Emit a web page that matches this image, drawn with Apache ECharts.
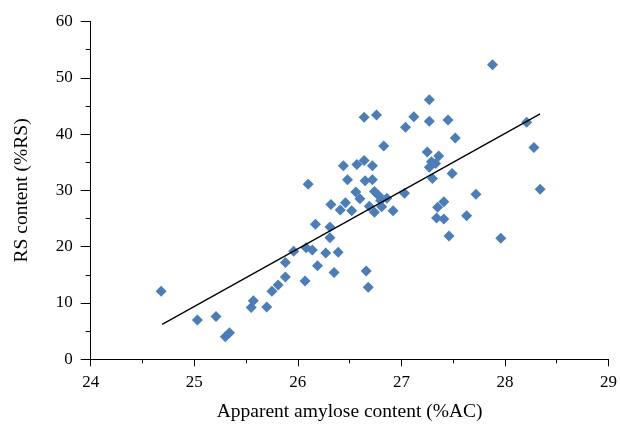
<!DOCTYPE html>
<html>
<head>
<meta charset="utf-8">
<script src="https://cdn.jsdelivr.net/npm/echarts@6/dist/echarts.min.js"></script>
<style>html,body{margin:0;padding:0;background:#fff;}#c{width:620px;height:429px;}</style>
</head>
<body>
<div id="c"></div>
<script>
var xTicks = [24, 25, 26, 27, 28, 29];
var yTicks = [0, 10, 20, 30, 40, 50, 60];
var amylose = [
  24.68, 25.03, 25.21, 25.30, 25.34, 25.55, 25.57, 25.70, 25.75, 25.81, 25.88, 25.88, 25.96, 26.07, 26.08, 26.10,
  27.27, 26.64, 26.76, 27.12, 27.04, 27.27, 27.45, 27.52, 26.83, 27.25, 27.29, 27.33, 27.27, 27.36,
  26.44, 26.57, 26.64, 26.72, 26.48, 26.65, 26.72, 27.30, 27.49, 26.56, 26.60, 26.74,
  26.78, 26.86, 26.80, 27.03, 26.32, 26.46, 26.41, 26.52, 26.69, 26.74, 26.81, 26.92,
  26.17, 26.31, 26.31, 26.14, 26.27, 26.39, 26.19, 26.35, 26.66, 26.68,
  27.34, 27.41, 27.35, 27.41, 27.46, 27.63,
  27.88, 28.21, 28.28, 28.34, 27.72, 27.96
];
var rs = [
  12.1, 7.0, 7.6, 4.0, 4.7, 9.2, 10.4, 9.3, 12.1, 13.2, 14.6, 17.2, 19.2, 13.9, 19.8, 31.1,
  46.1, 43.0, 43.4, 43.1, 41.2, 42.3, 42.5, 39.3, 37.9, 36.8, 35.1, 34.8, 34.1, 36.1,
  34.4, 34.6, 35.3, 34.4, 31.9, 31.7, 31.9, 32.1, 33.0, 29.7, 28.5, 29.8,
  29.1, 28.6, 28.2, 29.5, 27.5, 27.8, 26.5, 26.4, 27.2, 26.1, 27.1, 26.4,
  24.0, 23.5, 21.6, 19.4, 18.9, 19.0, 16.6, 15.4, 15.7, 12.8,
  25.1, 24.9, 27.0, 28.0, 21.9, 25.5,
  52.3, 42.1, 37.6, 30.2, 29.3, 21.5
];
var trendX = [24.69, 28.34];
var trendY = [6.2, 43.6];

var pts = amylose.map(function (x, i) { return [x, rs[i]]; });
var trend = trendX.map(function (x, i) { return [x, trendY[i]]; });

var font = 'Liberation Serif';
var chart = echarts.init(document.getElementById('c'), null, {renderer: 'canvas'});
chart.setOption({
  animation: false,
  backgroundColor: '#ffffff',
  grid: {left: 90.7, right: 11, top: 21.5, bottom: 69.7, containLabel: false},
  xAxis: {
    type: 'value', min: xTicks[0], max: xTicks[xTicks.length - 1], interval: 1,
    name: 'Apparent amylose content (%AC)', nameLocation: 'middle', nameGap: 43,
    nameTextStyle: {fontFamily: font, fontSize: 19.5, color: '#000'},
    axisLine: {show: true, onZero: false, lineStyle: {color: '#000', width: 1}},
    axisTick: {show: true, inside: false, length: 7, lineStyle: {color: '#000'}},
    minorTick: {show: true, splitNumber: 2, length: 4, lineStyle: {color: '#000'}},
    splitLine: {show: false},
    axisLabel: {fontFamily: font, fontSize: 17, color: '#000', margin: 15,
      formatter: function (v) { return xTicks.indexOf(v) >= 0 ? String(v) : ''; }}
  },
  yAxis: {
    type: 'value', min: yTicks[0], max: yTicks[yTicks.length - 1], interval: 10,
    name: 'RS content (%RS)', nameLocation: 'middle', nameGap: 59, nameRotate: 90,
    nameTextStyle: {fontFamily: font, fontSize: 19.5, color: '#000'},
    axisLine: {show: true, onZero: false, lineStyle: {color: '#000', width: 1}},
    axisTick: {show: true, inside: false, length: 10, lineStyle: {color: '#000'}},
    minorTick: {show: true, splitNumber: 2, length: 5, lineStyle: {color: '#000'}},
    splitLine: {show: false},
    axisLabel: {fontFamily: font, fontSize: 17, color: '#000', margin: 18,
      formatter: function (v) { return yTicks.indexOf(v) >= 0 ? String(v) : ''; }}
  },
  series: [
    {
      type: 'scatter', data: pts, symbol: 'diamond', symbolSize: 11,
      itemStyle: {color: '#4A7EBB', opacity: 1}, z: 2
    },
    {
      type: 'line', data: trend, symbol: 'none', showSymbol: false,
      lineStyle: {color: '#000', width: 1.3}, z: 3
    }
  ]
});
</script>
</body>
</html>
